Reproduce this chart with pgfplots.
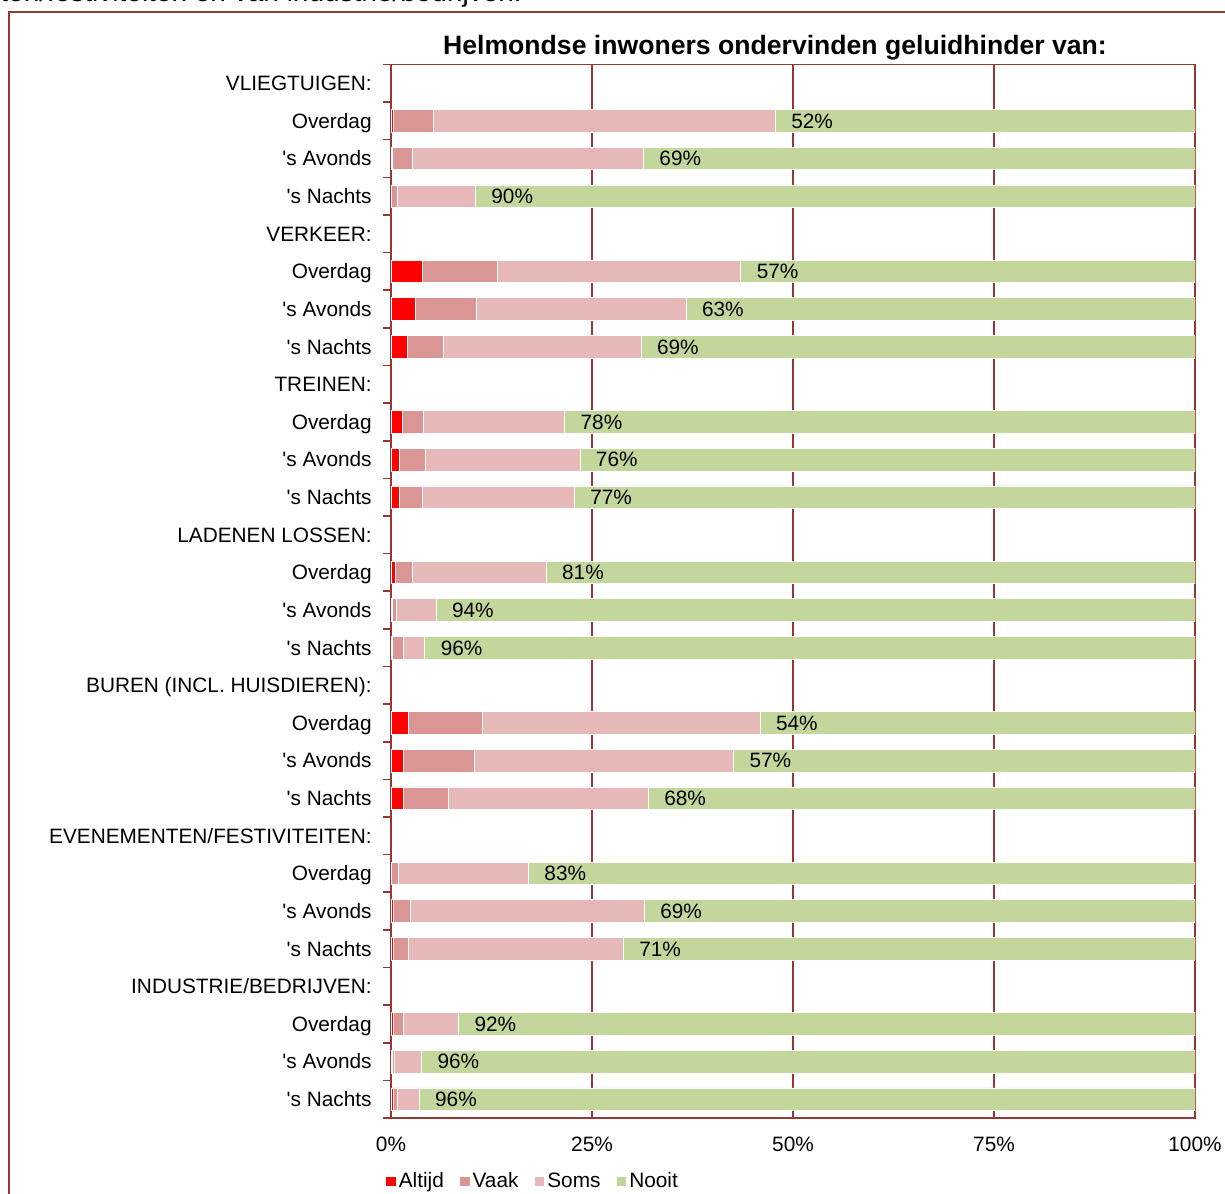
\documentclass[border=0pt]{standalone}
\usepackage{fontspec}
\setmainfont{Liberation Sans}
\usepackage{pgfplots}
\usepackage{pgfplotstable}
\pgfplotsset{compat=1.18}

\definecolor{altijdc}{HTML}{FF0000}
\definecolor{vaakc}{HTML}{D99694}
\definecolor{somsc}{HTML}{E6B9B8}
\definecolor{nooitc}{HTML}{C3D69B}
\definecolor{axisc}{HTML}{953735}

% y = row from the top (header rows have no bars)
\pgfplotstableread{
y  altijd vaak soms nooit lab
1  0.3    4.9  42.6 52.2  52
2  0.1    2.5  28.8 68.6  69
3  0.0    0.8  9.7  89.5  90
5  3.9    9.3  30.3 56.5  57
6  3.0    7.6  26.1 63.3  63
7  2.0    4.5  24.6 68.9  69
9  1.4    2.6  17.6 78.4  78
10 1.0    3.3  19.2 76.5  76
11 1.0    2.9  18.9 77.2  77
13 0.5    2.2  16.6 80.7  81
14 0.1    0.5  5.0  94.4  94
15 0.1    1.4  2.7  95.8  96
17 2.1    9.2  34.6 54.1  54
18 1.5    8.8  32.3 57.4  57
19 1.5    5.6  24.9 68.0  68
21 0.0    0.9  16.2 82.9  83
22 0.3    2.1  29.1 68.5  69
23 0.3    1.9  26.7 71.1  71
25 0.3    1.2  6.9  91.6  92
26 0.1    0.3  3.4  96.2  96
27 0.3    0.5  2.7  96.5  96
}\hinder

\newcommand{\lblfont}{\fontsize{10.4}{12}\selectfont}
\newcommand{\ap}{\textquotesingle}

\pgfplotsset{frame/.style={
    at={(195.5pt,-559pt)}, anchor=south west,
    scale only axis, width=402pt, height=526.8pt,
    xmin=0, xmax=100, ymin=-0.5, ymax=27.5, y dir=reverse}}

\begin{document}
\begin{tikzpicture}
\begin{axis}[
    frame,
    xbar stacked, bar width=11.3pt,
    axis line style={axisc, line width=0.8pt},
    xmajorgrids, grid style={axisc, line width=0.8pt},
    xtick={0,25,50,75,100},
    xticklabels={0\%,25\%,50\%,75\%,100\%},
    ytick={0,...,27},
    yticklabels={VLIEGTUIGEN:,Overdag,\ap{}s Avonds,\ap{}s Nachts,
        VERKEER:,Overdag,\ap{}s Avonds,\ap{}s Nachts,
        TREINEN:,Overdag,\ap{}s Avonds,\ap{}s Nachts,
        LADENEN LOSSEN:,Overdag,\ap{}s Avonds,\ap{}s Nachts,
        BUREN (INCL. HUISDIEREN):,Overdag,\ap{}s Avonds,\ap{}s Nachts,
        EVENEMENTEN/FESTIVITEITEN:,Overdag,\ap{}s Avonds,\ap{}s Nachts,
        INDUSTRIE/BEDRIJVEN:,Overdag,\ap{}s Avonds,\ap{}s Nachts},
    minor ytick={-0.5,0.5,...,27.5},
    major tick length=0pt, minor tick length=4pt,
    tick align=outside, tick style={axisc, line width=0.8pt},
    xtick pos=bottom, ytick pos=left,
    ticklabel style={font=\lblfont},
    yticklabel style={anchor=base east, inner sep=0pt, xshift=-9.5pt, yshift=-3.7pt},
    xticklabel style={anchor=north, inner sep=0pt, yshift=-9.5pt},
    legend columns=-1,
    legend style={draw=none, fill=none, inner sep=0pt,
        at={(axis description cs:-0.0075,-0.06)}, anchor=west,
        font=\lblfont, nodes={inner sep=1.2pt},
        /tikz/every even column/.append style={column sep=6.5pt}},
    legend image code/.code={\fill[#1] (0pt,-2.6pt) rectangle (5.2pt,2.6pt);},
]
\addplot[fill=altijdc, draw=white, line width=0.3pt] table[x=altijd, y=y]{\hinder};
\addlegendentry{Altijd}
\addplot[fill=vaakc, draw=white, line width=0.3pt] table[x=vaak, y=y]{\hinder};
\addlegendentry{Vaak}
\addplot[fill=somsc, draw=white, line width=0.3pt] table[x=soms, y=y]{\hinder};
\addlegendentry{Soms}
\addplot[fill=nooitc, draw=white, line width=0.3pt] table[x=nooit, y=y]{\hinder};
\addlegendentry{Nooit}
\end{axis}
% labels of the "Nooit" share, at the start of that segment
\begin{axis}[frame, hide axis]
\addplot[draw=none, mark=none, point meta=explicit symbolic,
    nodes near coords={\makebox[0pt][l]{\hspace{8pt}\pgfplotspointmeta\%}},
    every node near coord/.append style={anchor=base, yshift=-3.7pt,
        inner sep=0pt, font=\lblfont, text=black}]
    table[x expr=100-\thisrow{nooit}, y=y, meta=lab]{\hinder};
\end{axis}
\node[anchor=base, font=\fontsize{13.3}{16}\selectfont\bfseries] at (387.5pt,-27.5pt)
    {Helmondse inwoners ondervinden geluidhinder van:};
\node[anchor=base west, inner sep=0pt, font=\fontsize{14}{16}\selectfont] at (0pt,-1pt)
    {ten/festiviteiten en van industrie/bedrijven.};
\draw[axisc, line width=1pt] (4.5pt,-600pt) -- (4.5pt,-6pt) -- (615pt,-6pt);
\pgfresetboundingbox
\useasboundingbox (0pt,0pt) rectangle (612.5pt,-596.5pt);
\end{tikzpicture}
\end{document}
